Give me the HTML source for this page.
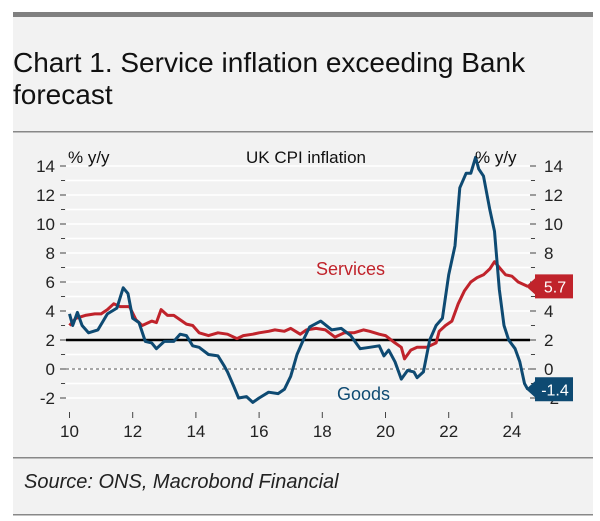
<!DOCTYPE html>
<html><head><meta charset="utf-8"><style>
html,body{margin:0;padding:0;background:#fff;}
body{width:600px;height:521px;position:relative;overflow:hidden;font-family:"Liberation Sans",sans-serif;}
#panel{position:absolute;left:13px;top:13px;width:580px;height:502px;background:#f2f2f2;}
</style></head><body>
<div id="panel"></div>
<svg width="600" height="521" style="position:absolute;left:0;top:0">
<rect x="13" y="12" width="580" height="5" fill="#808080"/>
<text x="13" y="72" font-size="28" fill="#111">Chart 1. Service inflation exceeding Bank</text>
<text x="13" y="104" font-size="28" fill="#111">forecast</text>
<rect x="13" y="131" width="580" height="1.5" fill="#888"/>
<rect x="13" y="457" width="580" height="1.5" fill="#888"/>
<rect x="13" y="514" width="580" height="1.5" fill="#888"/>
<text x="24" y="488" font-size="20" font-style="italic" fill="#222">Source: ONS, Macrobond Financial</text>
<g id="plot"></g>
</svg>
<script>
const goodsYears=[2010.0,2010.1,2010.25,2010.4,2010.6,2010.9,2011.2,2011.5,2011.7,2011.85,2012.0,2012.2,2012.4,2012.6,2012.75,2013.0,2013.3,2013.5,2013.7,2013.9,2014.1,2014.4,2014.7,2014.9,2015.0,2015.2,2015.35,2015.6,2015.8,2016.0,2016.3,2016.6,2016.8,2017.0,2017.2,2017.4,2017.6,2017.95,2018.3,2018.6,2018.9,2019.2,2019.5,2019.8,2019.95,2020.1,2020.3,2020.5,2020.7,2020.9,2021.0,2021.2,2021.4,2021.6,2021.8,2022.0,2022.2,2022.35,2022.55,2022.7,2022.85,2022.95,2023.1,2023.3,2023.45,2023.6,2023.75,2023.9,2024.1,2024.25,2024.4,2024.5];
const goodsValues=[3.8,3.0,3.9,3.0,2.5,2.7,3.8,4.2,5.6,5.2,3.5,3.2,1.9,1.8,1.4,1.9,1.9,2.4,2.3,1.6,1.5,1.0,0.9,0.2,-0.2,-1.2,-2.0,-1.9,-2.3,-2.0,-1.6,-1.7,-1.4,-0.5,1.0,2.0,2.9,3.3,2.7,2.8,2.3,1.4,1.5,1.6,0.9,1.3,0.5,-0.7,-0.1,-0.2,-0.6,-0.2,2.0,3.0,3.5,6.5,8.5,12.5,13.5,13.5,14.6,13.8,13.3,11.0,9.5,5.5,3.0,2.0,1.4,0.5,-1.0,-1.4];
const servYears=[2010.0,2010.2,2010.5,2010.8,2011.0,2011.2,2011.4,2011.6,2011.9,2012.1,2012.3,2012.6,2012.75,2012.9,2013.1,2013.3,2013.5,2013.7,2013.9,2014.1,2014.4,2014.7,2015.0,2015.3,2015.5,2015.8,2016.0,2016.3,2016.5,2016.8,2017.0,2017.3,2017.5,2017.8,2018.1,2018.4,2018.7,2019.0,2019.3,2019.5,2019.8,2020.0,2020.3,2020.5,2020.6,2020.8,2021.0,2021.3,2021.6,2021.7,2021.9,2022.1,2022.3,2022.5,2022.7,2022.9,2023.1,2023.3,2023.45,2023.6,2023.8,2024.0,2024.2,2024.5];
const servValues=[3.0,3.5,3.7,3.8,3.8,4.1,4.5,4.3,4.3,3.4,3.0,3.3,3.2,4.1,3.7,3.7,3.4,3.1,3.0,2.5,2.3,2.5,2.4,2.1,2.3,2.4,2.5,2.6,2.7,2.6,2.8,2.4,2.7,2.8,2.7,2.2,2.5,2.5,2.7,2.6,2.4,2.3,1.8,1.5,0.7,1.3,1.5,1.5,1.8,2.6,3.0,3.3,4.5,5.4,6.0,6.3,6.5,6.9,7.4,7.0,6.5,6.4,6.0,5.7];
const yTicks=[-2,0,2,4,6,8,10,12,14];
const xTicks=[10,12,14,16,18,20,22,24];
const NS="http://www.w3.org/2000/svg";
const g=document.getElementById('plot');
const X=y=>69.5+(y-2010)*31.6;
const Y=v=>369-v*14.5;
function el(t,a,txt){const e=document.createElementNS(NS,t);for(const k in a)e.setAttribute(k,a[k]);if(txt!==undefined)e.textContent=txt;g.appendChild(e);return e;}
const FONT='"Liberation Sans",sans-serif';
for(let v=-2;v<=14;v++){
 const gl=el('line',{x1:66,x2:530,y1:Y(v),y2:Y(v),stroke:'#fff','stroke-width':1.5});
 
 
 if(v%2!==0){
  const a=el('line',{x1:61,x2:65,y1:Y(v),y2:Y(v),stroke:'#444'});
  
  
  const b=el('line',{x1:531,x2:535,y1:Y(v),y2:Y(v),stroke:'#444'});
  
  
 }
}
yTicks.forEach(v=>{
 const t=el('text',{x:55,y:Y(v)+6,'font-size':17,'text-anchor':'end',fill:'#222','font-family':FONT},String(v));
 
 
 const a=el('line',{x1:60,x2:66,y1:Y(v),y2:Y(v),stroke:'#444'});
 
 
 const b=el('line',{x1:530,x2:536,y1:Y(v),y2:Y(v),stroke:'#444'});
 
 
 const r=el('text',{x:544,y:Y(v)+6,'font-size':17,fill:'#222','font-family':FONT},String(v));
 
 
});
xTicks.forEach(v=>{
 const a=el('line',{x1:X(2000+v),x2:X(2000+v),y1:412,y2:418,stroke:'#444'});
 
 
 const t=el('text',{x:X(2000+v),y:437,'font-size':17,'text-anchor':'middle',fill:'#222','font-family':FONT},String(v));
 
 
});
const z=el('line',{x1:66,x2:530,y1:Y(0),y2:Y(0),stroke:'#555','stroke-dasharray':'3,3'});


const tg=el('line',{x1:66,x2:530,y1:Y(2),y2:Y(2),stroke:'#000','stroke-width':2.5});


function path(xs,vs,c,name){
 const d=xs.map((x,i)=>(i?'L':'M')+X(x).toFixed(1)+','+Y(vs[i]).toFixed(1)).join('');
 const p=el('path',{d:d,fill:'none',stroke:c,'stroke-width':3,'stroke-linejoin':'round'});
 
 
}
path(servYears,servValues,'#c0232b','services-line');
path(goodsYears,goodsValues,'#0e4a72','goods-line');
function tag(v,c,name){
 const y=Y(v),x0=526;
 const p=el('path',{d:`M${x0},${y} L${x0+9},${y-8} L${x0+9},${y-12} L${x0+47},${y-12} L${x0+47},${y+12} L${x0+9},${y+12} L${x0+9},${y+8} Z`,fill:c});
 
 
 const t=el('text',{x:x0+29,y:y+6,'font-size':16,'text-anchor':'middle',fill:'#fff','font-family':FONT},String(v));
 
 
}
tag(servValues[servValues.length-1],'#c0232b','services-last-value');
tag(goodsValues[goodsValues.length-1],'#0e4a72','goods-last-value');
const l1=el('text',{x:68,y:163,'font-size':17,fill:'#111','font-family':FONT},'% y/y');


const l2=el('text',{x:475,y:163,'font-size':17,fill:'#111','font-family':FONT},'% y/y');


const l3=el('text',{x:246,y:163,'font-size':17,fill:'#111','font-family':FONT},'UK CPI inflation');


const l4=el('text',{x:316,y:275,'font-size':18,fill:'#c0232b','font-family':FONT},'Services');


const l5=el('text',{x:337,y:400,'font-size':18,fill:'#0e4a72','font-family':FONT},'Goods');


</script>
</body></html>
